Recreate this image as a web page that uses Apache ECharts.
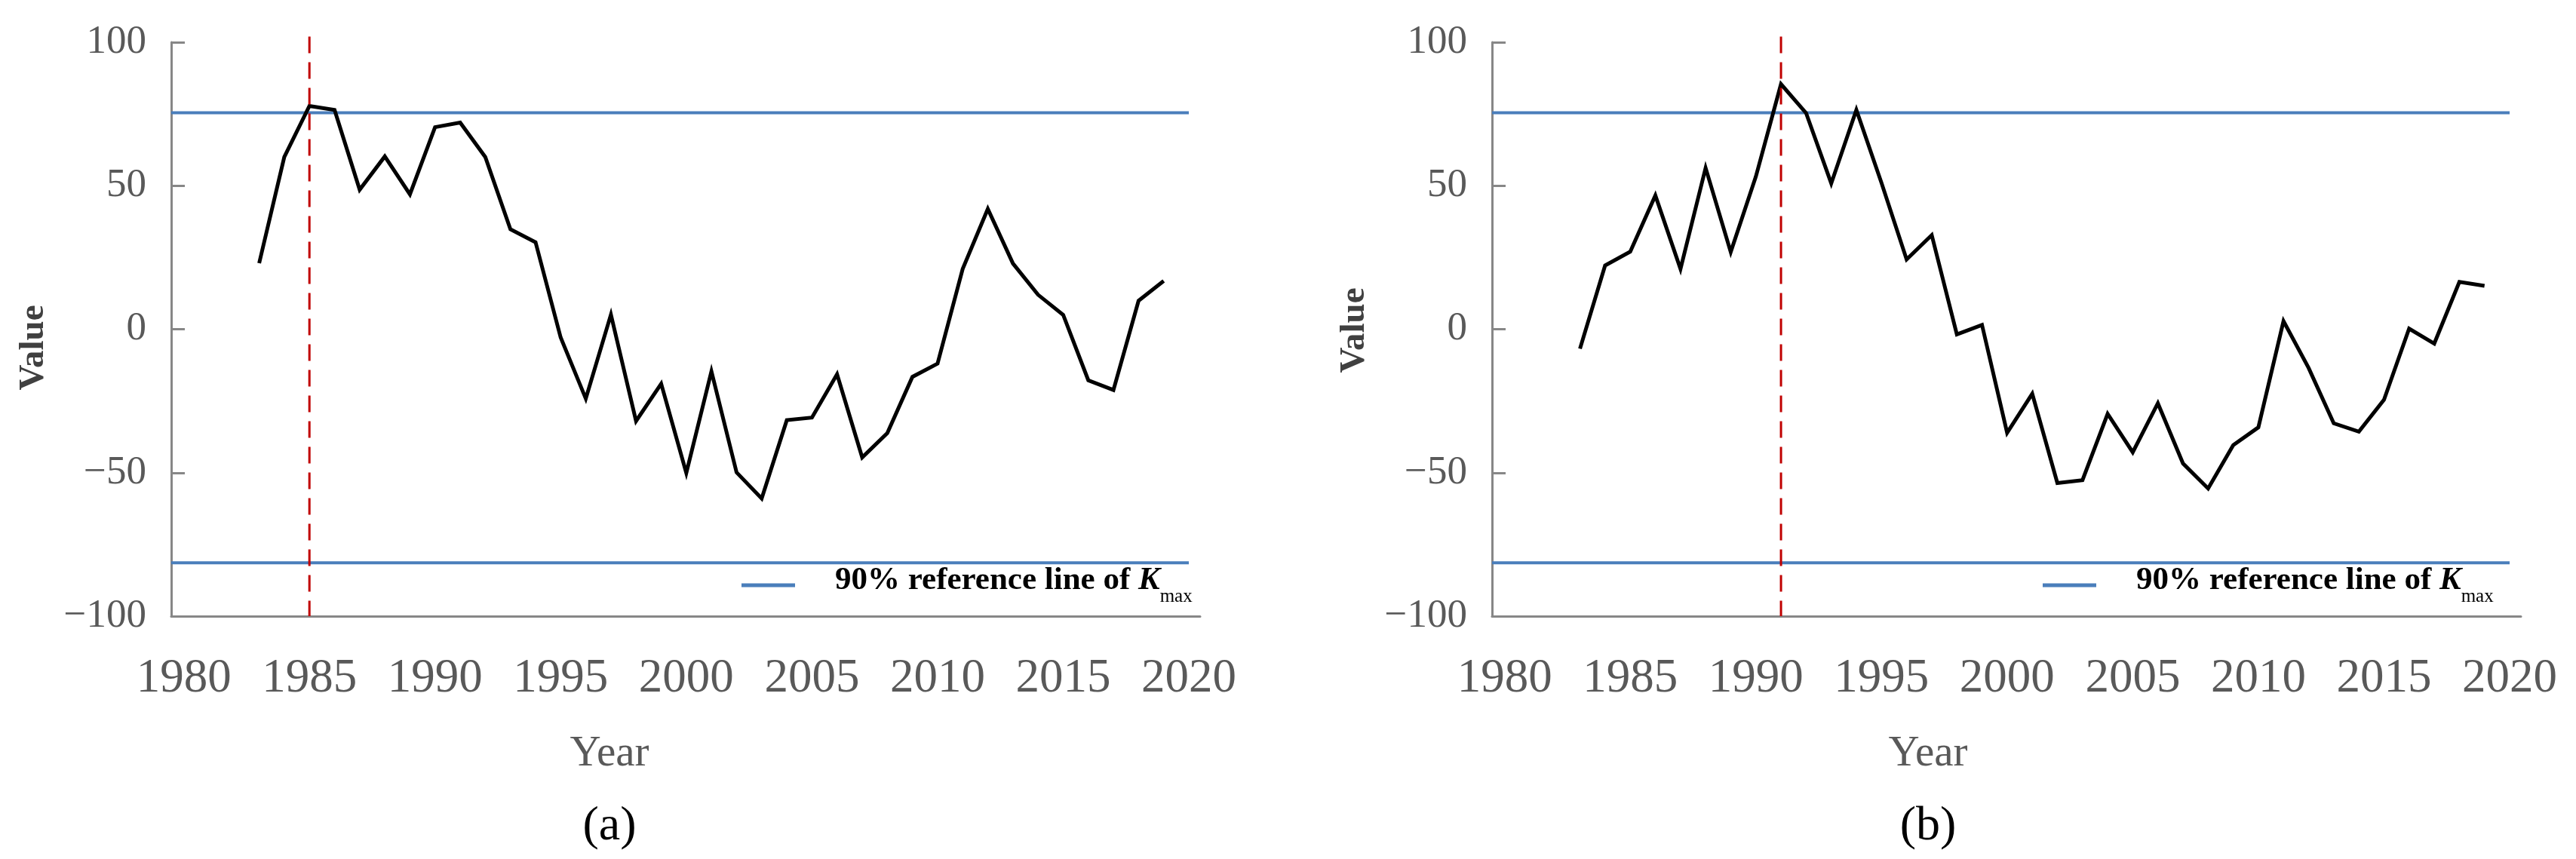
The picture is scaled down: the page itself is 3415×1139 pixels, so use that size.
<!DOCTYPE html>
<html>
<head>
<meta charset="utf-8">
<script src="https://cdn.jsdelivr.net/npm/echarts@6/dist/echarts.min.js"></script>
<style>
html,body{margin:0;padding:0;background:#fff;}
#chart{width:3415px;height:1139px;}
</style>
</head>
<body>
<div id="chart"></div>
<script>
// ---------- data ----------
const years = [1983,1984,1985,1986,1987,1988,1989,1990,1991,1992,1993,1994,1995,1996,1997,1998,1999,2000,2001,2002,2003,2004,2005,2006,2007,2008,2009,2010,2011,2012,2013,2014,2015,2016,2017,2018,2019];
const valuesA = [23,60,77.8,76.4,48.6,60.2,47,70.4,72,60,34.8,30.3,-2.9,-24.2,5.1,-32,-19,-50.1,-14.7,-49.9,-59,-31.7,-30.8,-15.7,-44.7,-36.2,-16.6,-12,21,41.9,22.9,12,5,-17.8,-21.2,9.9,16.8];
const valuesB = [-6.8,22.2,27,46.6,21,56.2,26.9,53.2,85.4,75.3,50.8,76.4,51,24.3,32.8,-1.8,1.5,-36.1,-22.5,-53.6,-52.6,-29.5,-42.9,-25.8,-46.8,-55.5,-40.4,-34.2,2.8,-13.5,-32.8,-35.7,-24.6,0.2,-5,16.5,15.1];
const refUpper = [75.4, 75.4];
const refLower = [-81.4, -81.4];
const refEndYear = 2020;
const changeYearA = 1985;
const changeYearB = 1991;
const changeSpan = [102, -100];
const xTicks = [1980,1985,1990,1995,2000,2005,2010,2015,2020];
const yTicks = [-100,-50,0,50,100];
const panelLabels = ['(a)','(b)'];
const legendText = ['90% reference line of ', 'K', 'max'];

// ---------- styles ----------
const FONT = '"Times New Roman","Liberation Serif",serif';
const XMIN = 1979.5, XMAX = 2020.45;
const AXIS_COLOR = '#878787';
const LABEL_COLOR = '#595959';
const BLUE = '#4A7EBB';
const RED = '#C00000';

function fmtY(v){ return v < 0 ? '\u2212' + Math.abs(v) : String(v); }

function xAxisCfg(i){
  return {
    gridIndex: i, type: 'value', min: XMIN, max: XMAX,
    axisLine: {show: true, onZero: false, lineStyle: {color: AXIS_COLOR, width: 3}},
    axisTick: {show: false},
    splitLine: {show: false},
    axisLabel: {customValues: xTicks, formatter: v => String(v), fontSize: 63, color: LABEL_COLOR, fontFamily: FONT, margin: 52}
  };
}
function yAxisCfg(i){
  return {
    gridIndex: i, type: 'value', min: yTicks[0], max: yTicks[yTicks.length-1], interval: 50,
    axisLine: {show: true, onZero: false, lineStyle: {color: AXIS_COLOR, width: 3}},
    axisTick: {show: true, inside: true, length: 18, lineStyle: {color: AXIS_COLOR, width: 3}},
    splitLine: {show: false},
    axisLabel: {formatter: fmtY, fontSize: 53, color: LABEL_COLOR, fontFamily: FONT, margin: 33}
  };
}
function panelSeries(i, vals, kYear, refName){
  return [
    {type:'line', name: refName, xAxisIndex:i, yAxisIndex:i, symbol:'none', silent:true, z:2,
     lineStyle:{color:BLUE, width:4}, itemStyle:{color:BLUE},
     data:[[XMIN, refUpper[0]],[refEndYear, refUpper[1]]]},
    {type:'line', name: refName, xAxisIndex:i, yAxisIndex:i, symbol:'none', silent:true, z:2,
     lineStyle:{color:BLUE, width:4}, itemStyle:{color:BLUE},
     data:[[XMIN, refLower[0]],[refEndYear, refLower[1]]]},
    {type:'line', name:'K'+i, xAxisIndex:i, yAxisIndex:i, symbol:'none', silent:true, z:3,
     lineStyle:{color:'#000', width:5, join:'miter'},
     data: years.map((y,j)=>[y, vals[j]])},
    {type:'line', name:'chg'+i, xAxisIndex:i, yAxisIndex:i, symbol:'none', silent:true, z:4, clip:false,
     lineStyle:{color:RED, width:3, type:[22,12]},
     data:[[kYear, changeSpan[0]],[kYear, changeSpan[1]]]}
  ];
}
const richLegend = {
  t:{fontSize:43, fontWeight:'bold', color:'#000', fontFamily:FONT, lineHeight:50, verticalAlign:'top', padding:[0,0,0,48]},
  k:{fontSize:43, fontWeight:'bold', fontStyle:'italic', color:'#000', fontFamily:FONT, lineHeight:50, verticalAlign:'top'},
  s:{fontSize:25, color:'#000', fontFamily:FONT, verticalAlign:'top', padding:[31,0,0,0]}
};
function legendCfg(name, left){
  return {
    data:[name], left:left, top:748, padding:0, itemWidth:71, itemHeight:5, icon:'rect',
    selectedMode:false,
    formatter: ()=> '{t|'+legendText[0]+'}{k|'+legendText[1]+'}{s|'+legendText[2]+'}',
    textStyle:{rich:richLegend}
  };
}

const chart = echarts.init(document.getElementById('chart'), null, {renderer:'canvas'});
chart.setOption({
  backgroundColor:'#fff',
  animation:false,
  grid:[
    {left:227, top:56, width:1364, height:761},
    {left:1978, top:56, width:1364, height:761}
  ],
  xAxis:[xAxisCfg(0), xAxisCfg(1)],
  yAxis:[yAxisCfg(0), yAxisCfg(1)],
  legend:[legendCfg('refA', 983), legendCfg('refB', 2708)],
  series:[].concat(panelSeries(0, valuesA, changeYearA, 'refA'), panelSeries(1, valuesB, changeYearB, 'refB')),
  graphic:[
    {type:'text', x:45, y:461, rotation:Math.PI/2, style:{text:'Value', font:'bold 47px '+FONT, fill:'#404040', align:'center', verticalAlign:'middle'}},
    {type:'text', x:1796, y:438, rotation:Math.PI/2, style:{text:'Value', font:'bold 47px '+FONT, fill:'#404040', align:'center', verticalAlign:'middle'}},
    {type:'text', x:808, y:1000, style:{text:'Year', font:'57px '+FONT, fill:LABEL_COLOR, align:'center', verticalAlign:'middle'}},
    {type:'text', x:2556, y:1000, style:{text:'Year', font:'57px '+FONT, fill:LABEL_COLOR, align:'center', verticalAlign:'middle'}},
    {type:'text', x:808, y:1096, style:{text:panelLabels[0], font:'64px '+FONT, fill:'#000', align:'center', verticalAlign:'middle'}},
    {type:'text', x:2556, y:1096, style:{text:panelLabels[1], font:'64px '+FONT, fill:'#000', align:'center', verticalAlign:'middle'}}
  ]
});
</script>
</body>
</html>
